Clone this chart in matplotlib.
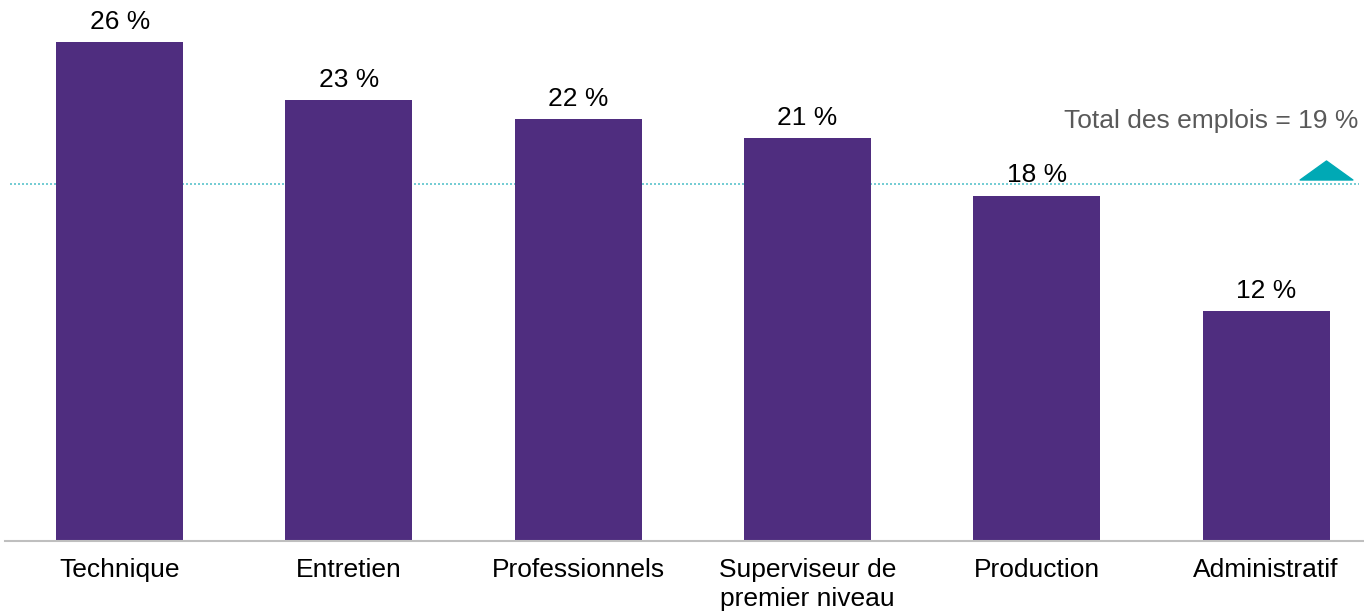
import matplotlib.pyplot as plt
from matplotlib.path import Path

plt.rcParams['font.family'] = ['Liberation Sans', 'DejaVu Sans']

categories = ['Technique', 'Entretien', 'Professionnels',
              'Superviseur de\npremier niveau', 'Production', 'Administratif']
values = [26, 23, 22, 21, 18, 12]
total_emplois = 18.6  # all jobs, shown rounded

bar_color = '#4F2D7F'
line_color = '#5BC3CC'
marker_color = '#00A9B5'

fig = plt.figure(figsize=(13.64, 6.13), dpi=100)
ax = fig.add_axes([5 / 1364, 72 / 613, 1359 / 1364, 537 / 613])

x = range(len(categories))
bars = ax.bar(x, values, width=0.554, color=bar_color, zorder=2)

# value on top of each bar
for xi, v in zip(x, values):
    ax.annotate(f'{v} %', (xi, v), xytext=(0, 6), textcoords='offset points',
                ha='center', va='bottom', fontsize=19, color='black')

# reference line for all jobs
ax.axhline(total_emplois, xmin=0.004, xmax=0.996, color=line_color,
           linestyle=(0, (1.2, 1.2)), linewidth=1.2, zorder=1)
tri = Path([(-1, -0.36), (1, -0.36), (0, 0.36), (-1, -0.36)],
           [Path.MOVETO, Path.LINETO, Path.LINETO, Path.CLOSEPOLY])
ax.plot([5.26], [total_emplois + 0.72], marker=tri, markersize=38,
        color=marker_color, linestyle='none', zorder=3)
ax.text(5.427 - 0.025, total_emplois + 3.3, f'Total des emplois = {total_emplois:.0f} %',
        ha='right', va='center', fontsize=19, color='#595959')

ax.set_xlim(-0.5, 5.427)
ax.set_ylim(0, 28)
ax.set_xticks(list(x))
ax.set_xticklabels(categories, fontsize=19, color='black', va='top',
                   linespacing=1.3)
ax.tick_params(axis='x', length=0, pad=12)
ax.set_yticks([])
for side in ['top', 'right', 'left']:
    ax.spines[side].set_visible(False)
ax.spines['bottom'].set_color('#BFBFBF')
ax.spines['bottom'].set_linewidth(1.5)

fig.savefig('out.png', dpi=100)
